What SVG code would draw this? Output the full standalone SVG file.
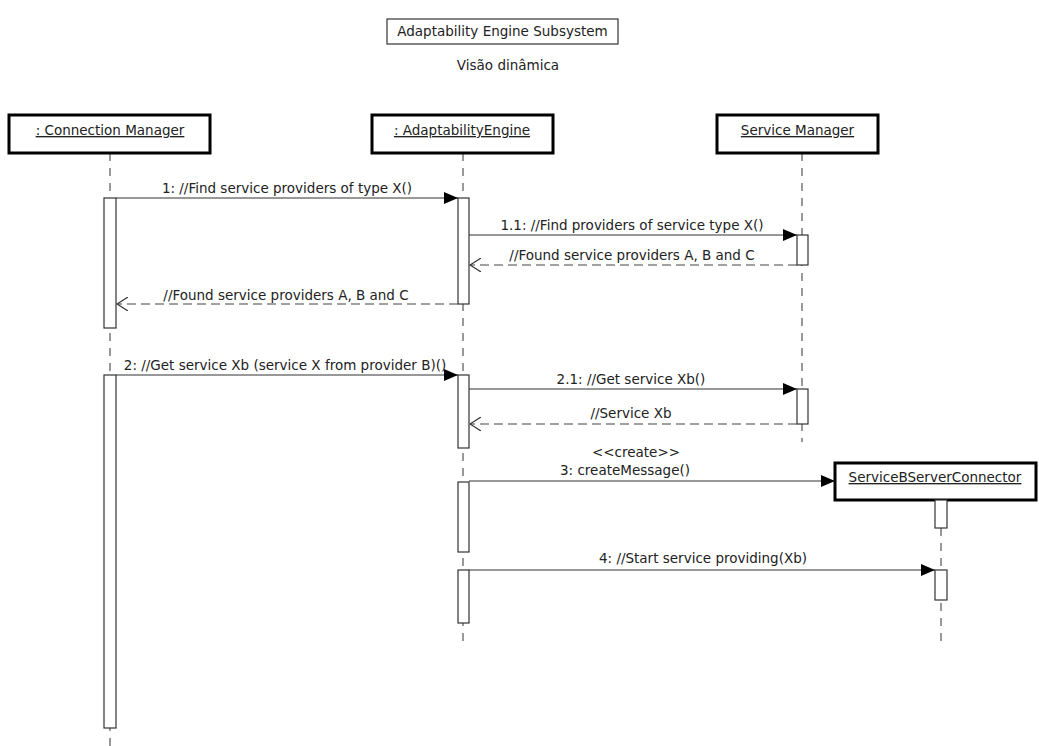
<svg xmlns="http://www.w3.org/2000/svg" width="1039" height="746" viewBox="0 0 1039 746">
  <style>
    text { font-family: "DejaVu Sans", "Liberation Sans", sans-serif; font-size: 13.5px; fill: #222; }
    .c { text-anchor: middle; }
    .obj { text-decoration: underline; }
    .head { fill: #fff; stroke: #000; stroke-width: 3; }
    .life { stroke: #555; stroke-width: 1.2; stroke-dasharray: 8 7; fill: none; }
    .bar { fill: #fff; stroke: #333; stroke-width: 1.2; }
    .call { stroke: #333; stroke-width: 1.2; fill: none; marker-end: url(#filled); }
    .ret { stroke: #444; stroke-width: 1.2; stroke-dasharray: 9 5; fill: none; marker-end: url(#open); }
  </style>
  <defs>
    <marker id="filled" viewBox="0 0 14 12" refX="14" refY="6" markerWidth="14" markerHeight="12" markerUnits="userSpaceOnUse" orient="auto">
      <path d="M0,0 L14,6 L0,12 Z" fill="#000"/>
    </marker>
    <marker id="open" viewBox="0 0 12 14" refX="11" refY="7" markerWidth="12" markerHeight="14" markerUnits="userSpaceOnUse" orient="auto">
      <path d="M0,0 L11,7 L0,14" fill="none" stroke="#333" stroke-width="1.2"/>
    </marker>
  </defs>

  <rect width="1039" height="746" fill="#fff"/>

  <!-- title -->
  <g id="title">
    <rect x="387" y="19" width="231" height="25" fill="#fff" stroke="#333" stroke-width="1.2"/>
    <text class="c" x="502.5" y="36">Adaptability Engine Subsystem</text>
    <text class="c" x="508" y="70">Visão dinâmica</text>
  </g>

  <!-- lifelines -->
  <g id="lifelines">
    <line class="life" x1="110" y1="153" x2="110" y2="746"/>
    <line class="life" x1="463" y1="153" x2="463" y2="642"/>
    <line class="life" x1="802" y1="153" x2="802" y2="442"/>
    <line class="life" x1="941" y1="528" x2="941" y2="642"/>
  </g>

  <!-- participants -->
  <g id="connectionManager">
    <rect class="head" x="9" y="115" width="201" height="38"/>
    <text class="c obj" x="110" y="135">: Connection Manager</text>
    <rect class="bar" x="104" y="198" width="12" height="130"/>
    <rect class="bar" x="104" y="375" width="12" height="353"/>
  </g>

  <g id="adaptabilityEngine">
    <rect class="head" x="372" y="115" width="181" height="38"/>
    <text class="c obj" x="462" y="135">: AdaptabilityEngine</text>
    <rect class="bar" x="458" y="198" width="11" height="106"/>
    <rect class="bar" x="458" y="375" width="11" height="73"/>
    <rect class="bar" x="458" y="482" width="11" height="70"/>
    <rect class="bar" x="458" y="570" width="11" height="53"/>
  </g>

  <g id="serviceManager">
    <rect class="head" x="717" y="115" width="161" height="38"/>
    <text class="c obj" x="797.5" y="135">Service Manager</text>
    <rect class="bar" x="797" y="235" width="11" height="30"/>
    <rect class="bar" x="797" y="389" width="11" height="35"/>
  </g>

  <g id="serviceBServerConnector">
    <rect class="head" x="835" y="463" width="201" height="37"/>
    <text class="c obj" x="935" y="482">ServiceBServerConnector</text>
    <rect class="bar" x="935" y="500" width="12" height="28"/>
    <rect class="bar" x="935" y="570" width="12" height="30"/>
  </g>

  <!-- messages -->
  <g id="connectors">
    <line class="call" x1="116" y1="198" x2="458" y2="198"/>
    <text class="c" x="287" y="193">1: //Find service providers of type X()</text>

    <line class="call" x1="469" y1="235" x2="797" y2="235"/>
    <text class="c" x="632" y="230">1.1: //Find providers of service type X()</text>

    <line class="ret" x1="797" y1="265" x2="470" y2="265"/>
    <text class="c" x="632" y="260">//Found service providers A, B and C</text>

    <line class="ret" x1="458" y1="304" x2="117" y2="304"/>
    <text class="c" x="286" y="300">//Found service providers A, B and C</text>

    <line class="call" x1="116" y1="375" x2="458" y2="375"/>
    <text class="c" x="285" y="370">2: //Get service Xb (service X from provider B)()</text>

    <line class="call" x1="469" y1="389" x2="797" y2="389"/>
    <text class="c" x="631" y="384">2.1: //Get service Xb()</text>

    <line class="ret" x1="797" y1="424" x2="470" y2="424"/>
    <text class="c" x="631" y="418">//Service Xb</text>

    <line class="call" x1="469" y1="481" x2="835" y2="481"/>
    <text class="c" x="636" y="457">&lt;&lt;create&gt;&gt;</text>
    <text class="c" x="625" y="475">3: createMessage()</text>

    <line class="call" x1="469" y1="570" x2="935" y2="570"/>
    <text class="c" x="703" y="563">4: //Start service providing(Xb)</text>
  </g>
</svg>
